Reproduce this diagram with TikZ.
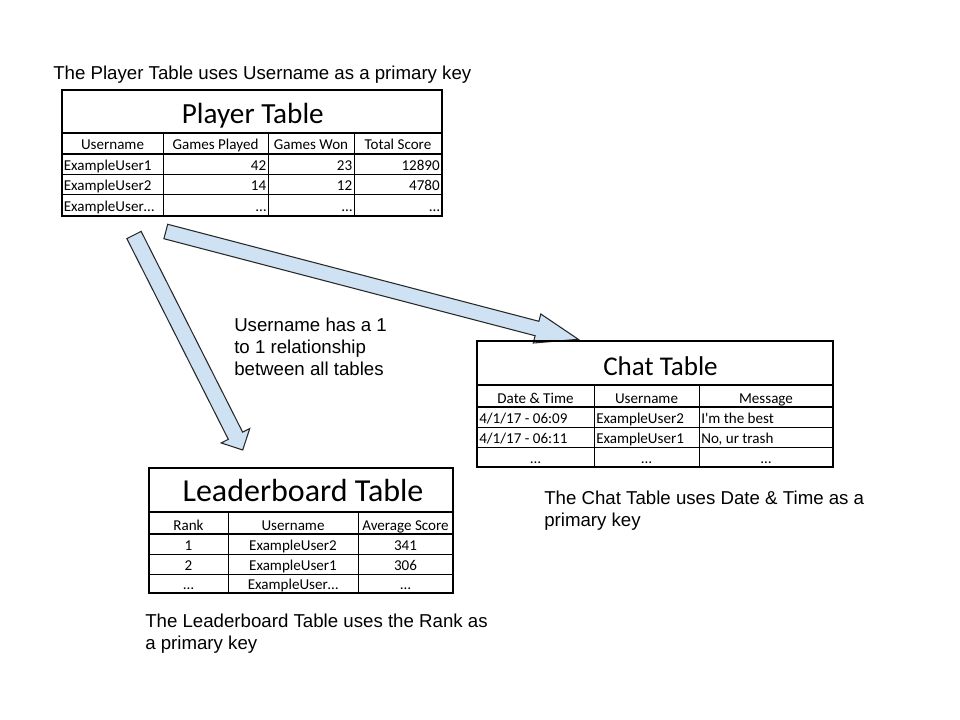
\documentclass[tikz,border=0pt]{standalone}
\usepackage{fontspec}
\setmainfont{Liberation Sans}
\newfontfamily\calibri{Carlito}
\usetikzlibrary{calc}
\definecolor{arrowblue}{RGB}{207,226,243}
\definecolor{edgegray}{RGB}{40,40,40}

\begin{document}
\begin{tikzpicture}[
    x=0.75pt, y=-0.75pt,
    note/.style={anchor=base west, align=left, inner sep=0pt, font=\fontsize{14}{16.3}\selectfont},
    cell/.style={anchor=base, inner sep=0pt, font=\calibri\fontsize{11.3}{13}\selectfont},
    tabtitle/.style={anchor=base, inner sep=0pt},
    outer/.style={line width=2.2pt},
    titlesep/.style={line width=1.5pt},
    headsep/.style={line width=1.2pt},
    grid/.style={line width=0.75pt},
    blockarrow/.style={fill=arrowblue, draw=edgegray, line width=0.8pt, line join=miter}
]
\useasboundingbox (0,0) rectangle (960,720);

% Arrows
\coordinate (chattail) at (165.8,231.5);
\coordinate (chattip) at (578.3,339.3);
\coordinate (leadtail) at (134,235);
\coordinate (leadtip) at (242.7,450);
\foreach \tl/\tp/\sw/\hw/\hl in {chattail/chattip/5.6pt/11.25pt/32pt, leadtail/leadtip/6pt/12pt/12pt} {
    \coordinate (\tp-base) at ($(\tp)!\hl!(\tl)$);
    \draw[blockarrow] ($(\tl)!\sw!90:(\tp)$) -- ($(\tp-base)!\sw!90:(\tp)$)
        -- ($(\tp-base)!\hw!90:(\tp)$) -- (\tp) -- ($(\tp-base)!\hw!-90:(\tp)$)
        -- ($(\tp-base)!\sw!-90:(\tp)$) -- ($(\tl)!\sw!-90:(\tp)$) -- cycle;
}

% Player table
\draw[outer] (62,90) rectangle (442,216);
\draw[titlesep] (62,133) -- (442,133);
\draw[headsep] (62,154) -- (442,154);
\foreach \y in {175,195}
    \draw[grid] (62,\y) -- (442,\y);
\foreach \x in {163,268,354}
    \draw[grid] (\x,133) -- (\x,216);
\node[tabtitle, font=\calibri\fontsize{21.9}{24}\selectfont] (ptitle) at (252.8,124) {Player Table};
\foreach \x/\t [count=\i] in {112.5/Username, 215.5/Games Played, 311/Games Won, 398/Total Score}
    \node[cell] (phead\i) at (\x,150) {\t};
\foreach \y/\u/\a/\b/\c [count=\j] in {171/ExampleUser1/42/23/12890, 191/ExampleUser2/14/12/4780, 212/ExampleUser…/…/…/…} {
    \node[cell, anchor=base west] (puser\j) at (63.5,\y) {\u};
    \node[cell, anchor=base east] (pplayed\j) at (266.5,\y) {\a};
    \node[cell, anchor=base east] (pwon\j) at (352.5,\y) {\b};
    \node[cell, anchor=base east] (pscore\j) at (440,\y) {\c};
}

% Chat table
\draw[outer] (477,341) rectangle (833,467);
\draw[titlesep] (477,385) -- (833,385);
\draw[headsep] (477,407) -- (833,407);
\foreach \y in {427,447}
    \draw[grid] (477,\y) -- (833,\y);
\foreach \x in {594,699}
    \draw[grid] (\x,385) -- (\x,467);
\node[tabtitle, font=\calibri\fontsize{20.3}{24}\selectfont] (ctitle) at (660.5,375) {Chat Table};
\foreach \x/\t [count=\i] in {535.5/Date \& Time, 646.5/Username, 766/Message}
    \node[cell] (chead\i) at (\x,403) {\t};
\foreach \y/\d/\u/\m [count=\j] in {423/{4/1/17 - 06:09}/ExampleUser2/{I\textquotesingle m the best}, 443/{4/1/17 - 06:11}/ExampleUser1/{No, ur trash}} {
    \node[cell, anchor=base west] (cdate\j) at (479,\y) {\d};
    \node[cell, anchor=base west] (cuser\j) at (596,\y) {\u};
    \node[cell, anchor=base west] (cmsg\j) at (701,\y) {\m};
}
\foreach \x [count=\i] in {535.5,646.5,766}
    \node[cell] (cdots\i) at (\x,463) {…};

% Leaderboard table
\draw[outer] (149,468) rectangle (453,593);
\draw[titlesep] (149,512) -- (453,512);
\draw[headsep] (149,534) -- (453,534);
\foreach \y in {554,574}
    \draw[grid] (149,\y) -- (453,\y);
\foreach \x in {228,358}
    \draw[grid] (\x,512) -- (\x,593);
\node[tabtitle, font=\calibri\fontsize{24}{26}\selectfont] (ltitle) at (303,501.7) {Leaderboard Table};
\foreach \x/\t [count=\i] in {188.5/Rank, 293/Username, 405.5/Average Score}
    \node[cell] (lhead\i) at (\x,530) {\t};
\foreach \y/\r/\u/\s [count=\j] in {550/1/ExampleUser2/341, 570/2/ExampleUser1/306, 589/…/ExampleUser…/…} {
    \node[cell] (lrank\j) at (188.5,\y) {\r};
    \node[cell] (luser\j) at (293,\y) {\u};
    \node[cell] (lavg\j) at (405.5,\y) {\s};
}

% Notes (base = last line)
\node[note] (pnote) at (53,79.5) {The Player Table uses Username as a primary key};
\node[note] (unote) at (234,375) {Username has a 1\\to 1 relationship\\between all tables};
\node[note] (cnote) at (544,526.7) {The Chat Table uses Date \& Time as a\\primary key};
\node[note] (lnote) at (145,649) {The Leaderboard Table uses the Rank as\\a primary key};
\end{tikzpicture}
\end{document}
